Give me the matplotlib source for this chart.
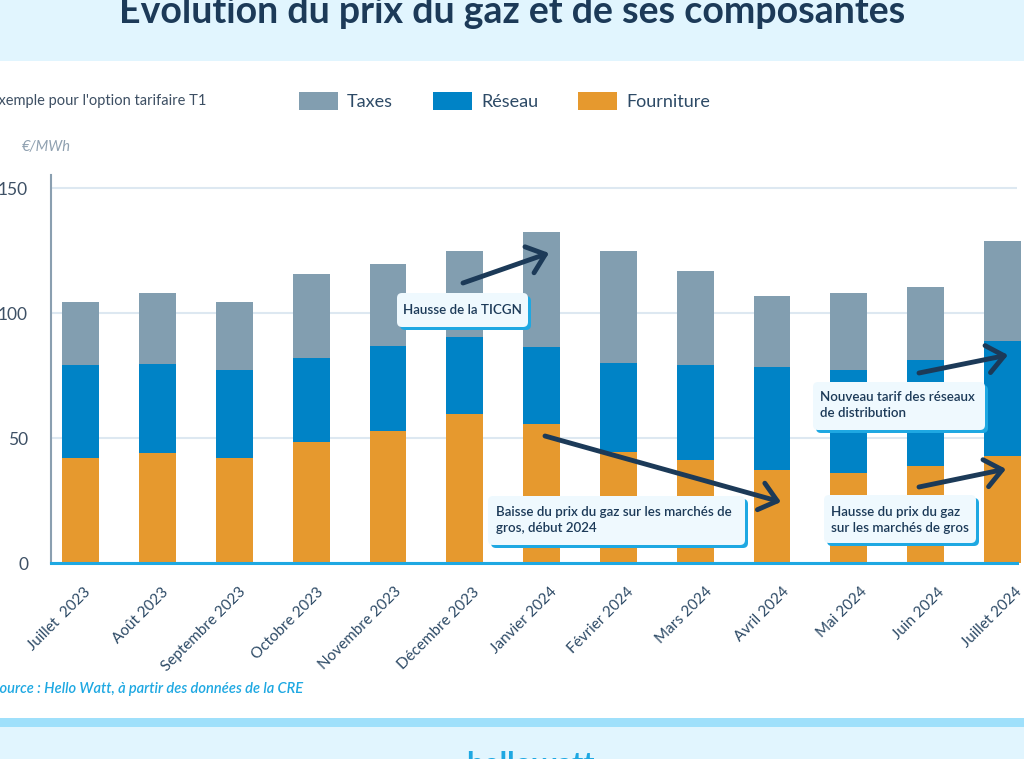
import matplotlib.pyplot as plt
import numpy as np
from matplotlib.patches import Rectangle, FancyBboxPatch
from matplotlib.transforms import ScaledTranslation

plt.rcParams['font.family'] = ['Lato', 'DejaVu Sans']

months = ['Juillet  2023', 'Août 2023', 'Septembre 2023', 'Octobre 2023', 'Novembre 2023',
          'Décembre 2023', 'Janvier 2024', 'Février 2024', 'Mars 2024', 'Avril 2024',
          'Mai 2024', 'Juin 2024', 'Juillet 2024']
fourniture = [42.2, 44.1, 42.2, 48.4, 52.9, 59.7, 55.7, 44.6, 41.4, 37.3, 36.0, 38.9, 43.0]
reseau = [37.1, 35.6, 35.1, 33.6, 34.1, 30.9, 30.8, 35.5, 38.0, 41.2, 41.3, 42.4, 46.0]
taxes = [25.3, 28.5, 27.3, 33.6, 32.7, 34.2, 45.9, 44.7, 37.5, 28.4, 30.7, 29.1, 39.9]
yticks = [0, 50, 100, 150]

C_TAX = '#829eb0'
C_RES = '#0083c6'
C_FOU = '#e6992e'
NAVY = '#1c3a58'
LIGHT = '#e1f5fe'
CYAN = '#1ea8e2'

W, H = 1024, 759
fig = plt.figure(figsize=(W / 100, H / 100), dpi=100)
fig.patch.set_facecolor('white')


def inch(x, y):
    # pixel from top-left -> inches from bottom-left
    return x / 100, (H - y) / 100


# header / footer bands
fig.add_artist(Rectangle(inch(0, 61), W / 100, 61 / 100, transform=fig.dpi_scale_trans,
                         fc=LIGHT, ec='none', zorder=0))
fig.add_artist(Rectangle(inch(0, 727), W / 100, 9 / 100, transform=fig.dpi_scale_trans,
                         fc='#9fe0fb', ec='none', zorder=0))
fig.add_artist(Rectangle(inch(0, 759), W / 100, 32 / 100, transform=fig.dpi_scale_trans,
                         fc=LIGHT, ec='none', zorder=0))

fig.text(0.5, 1 - 23 / H, 'Evolution du prix du gaz et de ses composantes', ha='center',
         va='baseline', fontsize=27, fontweight='bold', color=NAVY)
fig.text(530 / W, 1 - 751 / H, 'hellowatt', ha='center', va='top', fontsize=22,
         fontweight='bold', color=CYAN)

ax = fig.add_axes([51 / W, 1 - 563.3 / H, (1017 - 51) / W, (563.3 - 175) / H])
x = np.arange(len(months))
w = 0.478
b1 = ax.bar(x, fourniture, w, color=C_FOU, clip_on=False, zorder=2, label='Fourniture')
b2 = ax.bar(x, reseau, w, bottom=fourniture, color=C_RES, clip_on=False, zorder=2,
            label='Réseau')
b3 = ax.bar(x, taxes, w, bottom=np.add(fourniture, reseau), color=C_TAX, clip_on=False,
            zorder=2, label='Taxes')

ax.set_xlim(-0.387, 12.19)
ax.set_ylim(0, 155.3)
ax.set_yticks(yticks)
ax.set_yticklabels([str(v) for v in yticks], fontsize=12.5, color='#3d5065')
ax.tick_params(axis='y', length=0, pad=16.5)
ax.set_xticks(x)
ax.set_xticklabels(months, rotation=45, ha='right', va='center', rotation_mode='anchor',
                   fontsize=11, color='#2d4a66')
ax.tick_params(axis='x', length=0, pad=19)
for i, lab in enumerate(ax.get_xticklabels()):
    lab.set_transform(lab.get_transform() +
                      ScaledTranslation((8 + i * 0.8) / 100, 0, fig.dpi_scale_trans))
ax.grid(axis='y', color='#dde8f1', lw=1.5, zorder=0)
ax.set_axisbelow(True)
for s in ['top', 'right']:
    ax.spines[s].set_visible(False)
ax.spines['left'].set_color('#8a9fb0')
ax.spines['left'].set_linewidth(1.5)
ax.spines['bottom'].set_color(CYAN)
ax.spines['bottom'].set_linewidth(2.2)
ax.set_facecolor('none')

fig.legend(handles=[b3, b2, b1], labels=['Taxes', 'Réseau', 'Fourniture'], loc='center left',
           bbox_to_anchor=(299 / W, 1 - 101 / H), ncol=3, frameon=False, fontsize=13,
           handlelength=2.17, handleheight=1.22, handletextpad=0.5, columnspacing=2.2,
           borderpad=0, borderaxespad=0, labelcolor='#2d4a66')

fig.text(-10 / W, 1 - 101 / H, "Exemple pour l'option tarifaire T1", ha='left', va='center',
         fontsize=10.5, color='#3d4f63')
fig.text(22 / W, 1 - 147 / H, '€/MWh', ha='left', va='center', fontsize=10.5,
         style='italic', color='#8fa0b0')
fig.text(-8 / W, 1 - 689 / H, 'Source : Hello Watt, à partir des données de la CRE',
         ha='left', va='center', fontsize=10.5, style='italic', fontweight='semibold',
         color=CYAN)


def note(x0, y0, x1, y1, lines, tx, ty, ha='left'):
    fig.add_artist(FancyBboxPatch(inch(x0 + 3, y1 + 3), (x1 - x0) / 100, (y1 - y0) / 100,
                                  boxstyle='round,pad=0,rounding_size=0.05',
                                  transform=fig.dpi_scale_trans, fc=CYAN, ec='none',
                                  zorder=3))
    fig.add_artist(FancyBboxPatch(inch(x0, y1), (x1 - x0) / 100, (y1 - y0) / 100,
                                  boxstyle='round,pad=0,rounding_size=0.05',
                                  transform=fig.dpi_scale_trans, fc='#eff9fe', ec='none',
                                  zorder=4))
    fig.text(tx / W, 1 - ty / H, lines, ha=ha, va='center', fontsize=9.6,
             fontweight='semibold', color=NAVY, linespacing=1.4, zorder=5)


def arrow(xs, ys, xe, ye):
    ax.annotate('', xy=(xe, H - ye), xytext=(xs, H - ys), xycoords='figure pixels',
                textcoords='figure pixels', annotation_clip=False,
                arrowprops=dict(arrowstyle='->,head_length=0.55,head_width=0.45',
                                mutation_scale=22, lw=3.5, color=NAVY,
                                shrinkA=0, shrinkB=0, capstyle='round',
                                joinstyle='round'), zorder=6)


arrow(463, 283, 549, 253)
arrow(545, 436, 781, 502)
arrow(919, 373, 1008, 355)
arrow(919, 487, 1006, 469)

note(397, 293, 528, 327, 'Hausse de la TICGN', 462, 310, ha='center')
note(488, 496, 745, 545, 'Baisse du prix du gaz sur les marchés de\ngros, début 2024', 496, 520)
note(813, 382, 985, 430, 'Nouveau tarif des réseaux\nde distribution', 820, 405)
note(824, 495, 976, 543, 'Hausse du prix du gaz\nsur les marchés de gros', 831, 520)

fig.savefig('out.png', dpi=100, facecolor='white')
